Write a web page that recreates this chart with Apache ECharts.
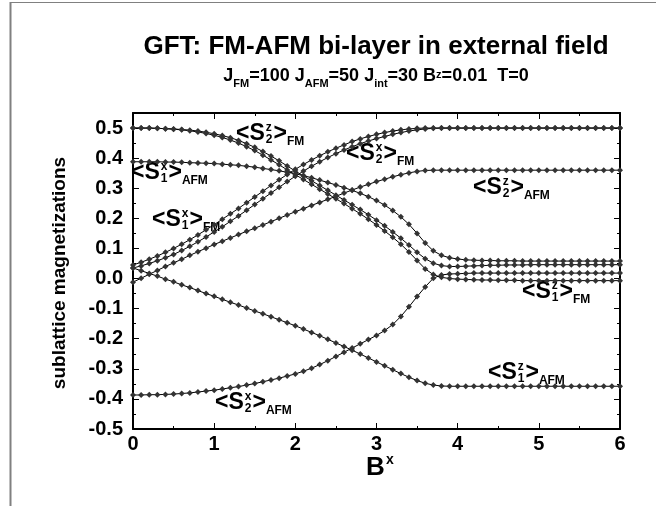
<!DOCTYPE html>
<html>
<head>
<meta charset="utf-8">
<script src="https://cdn.jsdelivr.net/npm/echarts@6/dist/echarts.min.js"></script>
<style>
  html, body { margin: 0; padding: 0; background: #fff; }
  #chart { width: 656px; height: 506px; }
</style>
</head>
<body>
<div id="chart"></div>
<script>
// field values B^x
const Bx = [0, 0.1, 0.2, 0.3, 0.4, 0.5, 0.6, 0.7, 0.8, 0.9,
  1.0, 1.1, 1.2, 1.3, 1.4, 1.5, 1.6, 1.7, 1.8, 1.9,
  2.0, 2.1, 2.2, 2.3, 2.4, 2.5, 2.6, 2.7, 2.8, 2.9,
  3.0, 3.1, 3.2, 3.3, 3.4, 3.5, 3.6, 3.7, 3.8, 3.9,
  4.0, 4.1, 4.2, 4.3, 4.4, 4.5, 4.6, 4.7, 4.8, 4.9,
  5.0, 5.1, 5.2, 5.3, 5.4, 5.5, 5.6, 5.7, 5.8, 5.9, 6.0];

const S2zFM = [.500, .500, .500, .499, .498, .497, .495, .493, .490, .486,
  .481, .475, .468, .459, .448, .436, .422, .407, .391, .374,
  .357, .341, .325, .309, .293, .277, .261, .245, .229, .212,
  .194, .175, .155, .134, .111, .087, .066, .051, .043, .040,
  .040, .041, .042, .043, .044, .044, .045, .045, .045, .046,
  .046, .046, .046, .046, .046, .046, .046, .046, .046, .046, .046];

const S1zFM = [.500, .500, .500, .499, .498, .496, .494, .491, .487, .482,
  .476, .469, .460, .450, .438, .425, .410, .394, .378, .361,
  .345, .329, .313, .297, .281, .265, .249, .232, .215, .197,
  .178, .158, .137, .114, .088, .060, .032, .013, .004, .000,
  -.002, -.003, -.004, -.005, -.005, -.006, -.006, -.006, -.007, -.007,
  -.007, -.007, -.007, -.007, -.007, -.007, -.007, -.007, -.007, -.007, -.007];

const S2xFM = [.045, .054, .064, .075, .087, .100, .114, .129, .145, .162,
  .179, .197, .215, .233, .252, .271, .290, .309, .328, .346,
  .363, .379, .394, .408, .421, .433, .444, .455, .464, .472,
  .479, .485, .490, .494, .497, .499, .500, .500, .500, .500,
  .500, .500, .500, .500, .500, .500, .500, .500, .500, .500,
  .500, .500, .500, .500, .500, .500, .500, .500, .500, .500, .500];

const S1xFM = [.035, .042, .050, .059, .069, .080, .093, .107, .122, .138,
  .155, .172, .190, .208, .227, .246, .265, .284, .303, .322,
  .340, .357, .373, .388, .402, .415, .427, .438, .448, .457,
  .465, .472, .479, .485, .490, .494, .497, .499, .500, .500,
  .500, .500, .500, .500, .500, .500, .500, .500, .500, .500,
  .500, .500, .500, .500, .500, .500, .500, .500, .500, .500, .500];

const S1xAFM = [.388, .388, .388, .388, .387, .387, .386, .385, .384, .383,
  .382, .380, .378, .376, .373, .370, .366, .362, .358, .353,
  .348, .342, .335, .327, .319, .311, .302, .293, .283, .272,
  .259, .244, .226, .205, .180, .150, .118, .092, .077, .069,
  .065, .062, .061, .060, .060, .059, .059, .059, .058, .058,
  .058, .058, .058, .058, .058, .058, .058, .058, .058, .058, .058];

const S2zAFM = [-.012, .001, .014, .027, .040, .052, .064, .077, .089, .101,
  .113, .124, .135, .146, .157, .167, .178, .189, .200, .211,
  .222, .232, .243, .253, .263, .273, .284, .294, .304, .313,
  .322, .330, .338, .345, .351, .356, .359, .360, .360, .360,
  .360, .360, .360, .360, .360, .360, .360, .360, .360, .360,
  .360, .360, .360, .360, .360, .360, .360, .360, .360, .360, .360];

const S1zAFM = [.035, .026, .017, .008, -.002, -.011, -.021, -.030, -.040, -.050,
  -.059, -.069, -.079, -.088, -.098, -.108, -.117, -.127, -.137, -.147,
  -.157, -.168, -.179, -.190, -.202, -.214, -.226, -.238, -.251, -.264,
  -.277, -.290, -.303, -.316, -.328, -.339, -.348, -.354, -.357, -.358,
  -.358, -.358, -.358, -.358, -.358, -.358, -.358, -.358, -.358, -.358,
  -.358, -.358, -.358, -.358, -.358, -.358, -.358, -.358, -.358, -.358, -.358];

const S2xAFM = [-.387, -.387, -.386, -.386, -.385, -.384, -.382, -.380, -.377, -.374,
  -.371, -.367, -.363, -.359, -.354, -.349, -.343, -.337, -.331, -.324,
  -.317, -.308, -.298, -.286, -.273, -.259, -.245, -.231, -.217, -.203,
  -.189, -.173, -.153, -.126, -.094, -.060, -.028, .001, .012, .015,
  .016, .017, .018, .018, .018, .018, .018, .018, .018, .018,
  .018, .018, .018, .018, .018, .018, .018, .018, .018, .018, .018];

const seriesList = [S2zFM, S1zFM, S2xFM, S1xFM, S1xAFM, S2zAFM, S1zAFM, S2xAFM];

const FONT = '"Liberation Sans", Arial, Helvetica, sans-serif';
const ctx = document.createElement('canvas').getContext('2d');
function tw(text, font) { ctx.font = font; return ctx.measureText(text).width; }

// curve labels like <S_2^z>_FM, placed by pixel (left edge, vertical centre)
function curveLabel(x, y, sup, idx, sub) {
  const big = 'bold 23px ' + FONT;
  const small = 'bold 12px ' + FONT;
  const w1 = tw('<S', big);
  const w2 = Math.max(tw(sup, small), tw(idx, small));
  const x2 = w1 + 1 + w2 + 1;
  const x3 = x2 + tw('>', big);
  const t = (tx, ty, text, font) => ({
    type: 'text', x: tx, y: ty,
    style: { text: text, font: font, fill: '#000', align: 'left', verticalAlign: 'middle' }
  });
  return {
    type: 'group', x: x, y: y,
    children: [
      t(0, 0, '<S', big),
      t(w1 + 1, -6, sup, small),
      t(w1 + 1, 6, idx, small),
      t(x2, 0, '>', big),
      t(x3, 8, sub, small)
    ]
  };
}

const chart = echarts.init(document.getElementById('chart'), null, { renderer: 'canvas' });

const axisCommon = {
  type: 'value',
  axisLine: { show: true, onZero: false, lineStyle: { color: '#000', width: 2 } },
  axisTick: { show: true, inside: true, length: 6, lineStyle: { color: '#000', width: 1 } },
  minorTick: { show: true, splitNumber: 2, length: 3, lineStyle: { color: '#000', width: 1 } },
  splitLine: { show: false }
};

const option = {
  animation: false,
  backgroundColor: '#fff',
  grid: { left: 133, right: 36, top: 113, bottom: 77 },
  xAxis: [
    Object.assign({}, axisCommon, {
      min: 0, max: 6, interval: 1, position: 'bottom',
      axisLabel: { color: '#000', fontSize: 20, fontWeight: 'bold', fontFamily: FONT, margin: 5 }
    }),
    Object.assign({}, axisCommon, {
      min: 0, max: 6, interval: 1, position: 'top',
      axisLabel: { show: false }
    })
  ],
  yAxis: [
    Object.assign({}, axisCommon, {
      min: -0.5, max: 0.55, interval: 0.1, position: 'left',
      axisLabel: {
        color: '#000', fontSize: 20, fontWeight: 'bold', fontFamily: FONT, margin: 10,
        formatter: v => (Math.abs(v * 10 - Math.round(v * 10)) > 1e-6 ? '' : v.toFixed(1))
      }
    }),
    Object.assign({}, axisCommon, {
      min: -0.5, max: 0.55, interval: 0.1, position: 'right',
      axisLabel: { show: false }
    })
  ],
  series: seriesList.map(arr => ({
    type: 'line',
    data: Bx.map((x, i) => [x, arr[i]]),
    symbol: 'diamond',
    symbolSize: 6,
    showSymbol: true,
    showAllSymbol: true,
    lineStyle: { color: '#000', width: 1 },
    itemStyle: { color: '#333' },
    silent: true
  })),
  graphic: [
    { type: 'line', shape: { x1: 10.5, y1: 2, x2: 10.5, y2: 506 }, style: { stroke: '#808080', lineWidth: 2 } },
    { type: 'line', shape: { x1: 10, y1: 2.5, x2: 656, y2: 2.5 }, style: { stroke: '#808080', lineWidth: 1 } },
    {
      type: 'text', x: 376, y: 47,
      style: { text: 'GFT: FM-AFM bi-layer in external field', font: 'bold 26px ' + FONT, fill: '#000', align: 'center', verticalAlign: 'middle' }
    },
    {
      type: 'text', x: 376, y: 78,
      style: {
        text: '{n|J}{s|FM}{n|=100 J}{s|AFM}{n|=50 J}{s|int}{n|=30 B}{p|z}{n|=0.01  T=0}',
        align: 'center', verticalAlign: 'middle',
        rich: {
          n: { fontSize: 18, fontFamily: FONT, fontWeight: 'bold', fill: '#000', lineHeight: 22, verticalAlign: 'top' },
          s: { fontSize: 11, fontFamily: FONT, fontWeight: 'bold', fill: '#000', lineHeight: 11, padding: [11, 0, 0, 0], verticalAlign: 'top' },
          p: { fontSize: 11, fontFamily: FONT, fontWeight: 'bold', fill: '#000', lineHeight: 11, padding: [2, 0, 0, 0], verticalAlign: 'top' }
        }
      }
    },
    {
      type: 'text', x: 60, y: 273, rotation: Math.PI / 2,
      style: { text: 'sublattice magnetizations', font: 'bold 19px ' + FONT, fill: '#000', align: 'center', verticalAlign: 'middle' }
    },
    {
      type: 'group', x: 366, y: 468,
      children: [
        { type: 'text', x: 0, y: 0, style: { text: 'B', font: 'bold 26px ' + FONT, fill: '#000', align: 'left', verticalAlign: 'middle' } },
        { type: 'text', x: 20, y: -8, style: { text: 'x', font: 'bold 14px ' + FONT, fill: '#000', align: 'left', verticalAlign: 'middle' } }
      ]
    },
    curveLabel(236, 134, 'z', '2', 'FM'),
    curveLabel(131, 173, 'x', '1', 'AFM'),
    curveLabel(152, 220, 'x', '1', 'FM'),
    curveLabel(346, 154, 'x', '2', 'FM'),
    curveLabel(473, 188, 'z', '2', 'AFM'),
    curveLabel(522, 292, 'z', '1', 'FM'),
    curveLabel(488, 373, 'z', '1', 'AFM'),
    curveLabel(215, 403, 'x', '2', 'AFM')
  ]
};

chart.setOption(option);
</script>
</body>
</html>
